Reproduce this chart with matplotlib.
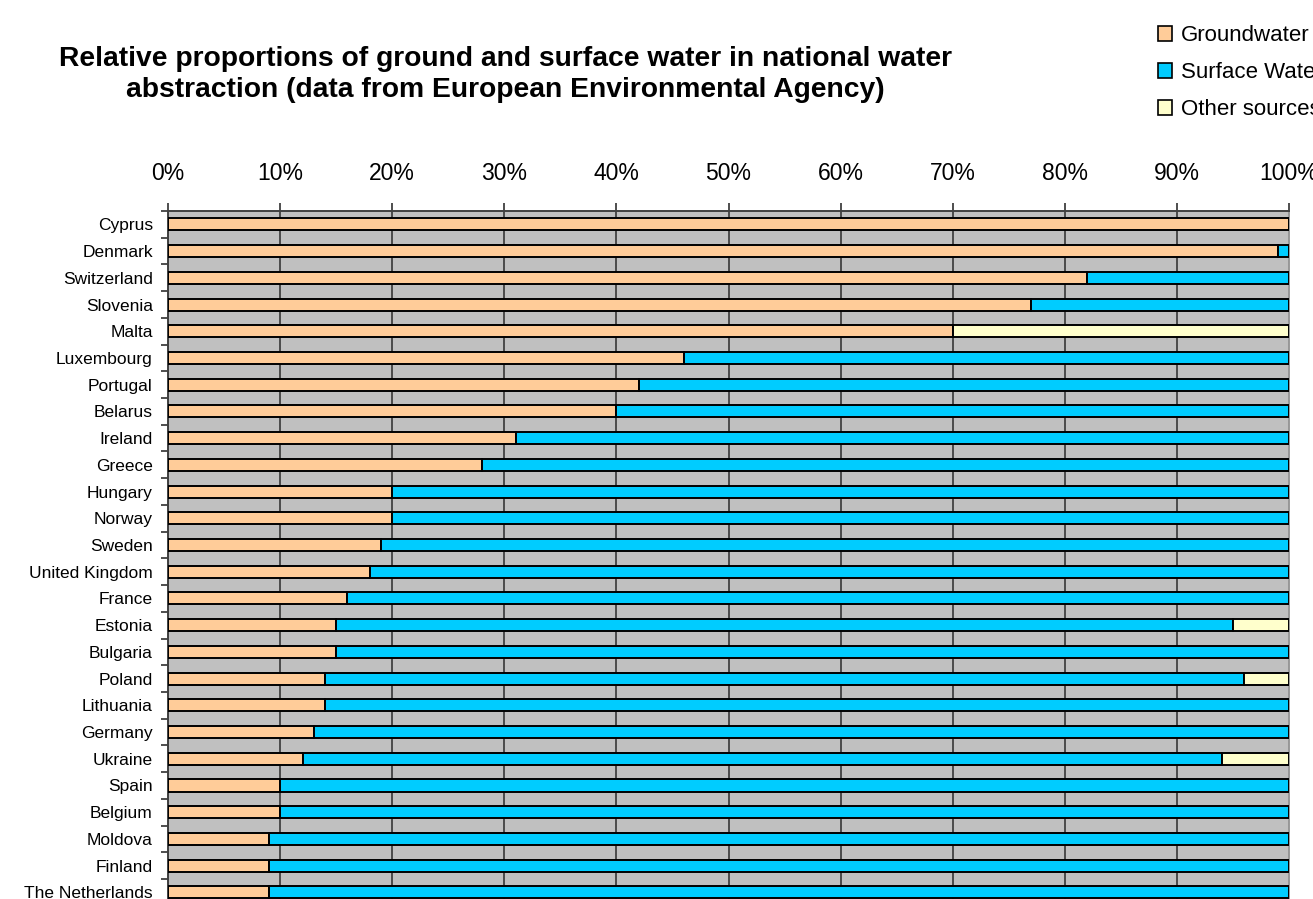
import numpy as np
from matplotlib import pyplot as plt
from matplotlib.patches import Patch

# data (percent of national abstraction)
countries = ['Cyprus', 'Denmark', 'Switzerland', 'Slovenia', 'Malta', 'Luxembourg',
             'Portugal', 'Belarus', 'Ireland', 'Greece', 'Hungary', 'Norway', 'Sweden',
             'United Kingdom', 'France', 'Estonia', 'Bulgaria', 'Poland', 'Lithuania',
             'Germany', 'Ukraine', 'Spain', 'Belgium', 'Moldova', 'Finland',
             'The Netherlands']
groundwater = [100, 99, 82, 77, 70, 46, 42, 40, 31, 28, 20, 20, 19,
               18, 16, 15, 15, 14, 14, 13, 12, 10, 10, 9, 9, 9]
surface = [0, 1, 18, 23, 0, 54, 58, 60, 69, 72, 80, 80, 81,
           82, 84, 80, 85, 82, 86, 87, 82, 90, 90, 91, 91, 91]
other = [0, 0, 0, 0, 30, 0, 0, 0, 0, 0, 0, 0, 0,
         0, 0, 5, 0, 4, 0, 0, 6, 0, 0, 0, 0, 0]
series_names = ['Groundwater', 'Surface Water', 'Other sources']

# colours
c_ground = '#FFCC99'
c_surface = '#00CCFF'
c_other = '#FFFFCC'
c_back = '#C0C0C0'
c_grid = '#4a4a4a'

plt.rcParams['font.family'] = ['Liberation Sans', 'DejaVu Sans']

fig = plt.figure(figsize=(13.13, 8.99), dpi=100)
fig.patch.set_facecolor('white')

# axes runs off the bottom of the picture like the original crop
ax = fig.add_axes([0.128, -0.05, 0.8537, 0.8153])
ax.set_facecolor(c_back)

y = np.arange(len(countries))
g = np.array(groundwater)
s = np.array(surface)
o = np.array(other)

bh = 0.45
ax.barh(y, g, height=bh, color=c_ground, edgecolor='black', linewidth=1.4, zorder=3)
ax.barh(y, s, left=g, height=bh, color=c_surface, edgecolor='black', linewidth=1.4, zorder=3)
mask = o > 0
ax.barh(y[mask], o[mask], left=(g + s)[mask], height=bh, color=c_other,
        edgecolor='black', linewidth=1.4, zorder=3)

ax.set_xlim(0, 100)
ax.set_ylim(26.93, -0.5)

# x axis on top
ax.xaxis.tick_top()
ax.set_xticks(np.arange(0, 101, 10))
ax.set_xticklabels([f'{v}%' for v in range(0, 101, 10)], fontsize=16.5)
ax.tick_params(axis='x', direction='out', length=6, width=1.3, color='#404040', pad=13)
ax.xaxis.grid(True, color=c_grid, linewidth=1.4, zorder=1)
ax.set_axisbelow(True)

# y axis: labels at centres, ticks at row boundaries
ax.set_yticks(y)
ax.set_yticklabels(countries, fontsize=12.5)
ax.tick_params(axis='y', which='major', length=0, pad=11)
ax.set_yticks(np.arange(-0.5, len(countries) + 1, 1), minor=True)
ax.tick_params(axis='y', which='minor', length=5, width=1.3, color='#404040', direction='out')

for side in ['top', 'left']:
    ax.spines[side].set_color('#404040')
    ax.spines[side].set_linewidth(1.4)
ax.spines['right'].set_color('#999999')
ax.spines['right'].set_linewidth(1.4)
ax.spines['bottom'].set_visible(False)

fig.text(0.385, 0.917,
         'Relative proportions of ground and surface water in national water\n'
         'abstraction (data from European Environmental Agency)',
         ha='center', va='center', fontsize=20.3, fontweight='bold', linespacing=1.28)

handles = [Patch(facecolor=c, edgecolor='black', linewidth=1.2)
           for c in [c_ground, c_surface, c_other]]
fig.legend(handles, series_names, loc='upper left', bbox_to_anchor=(0.882, 0.972),
           frameon=False, fontsize=16, handlelength=0.62, handleheight=0.62,
           handletextpad=0.4, labelspacing=0.72, borderpad=0, borderaxespad=0)

plt.savefig('out.png', dpi=100)
